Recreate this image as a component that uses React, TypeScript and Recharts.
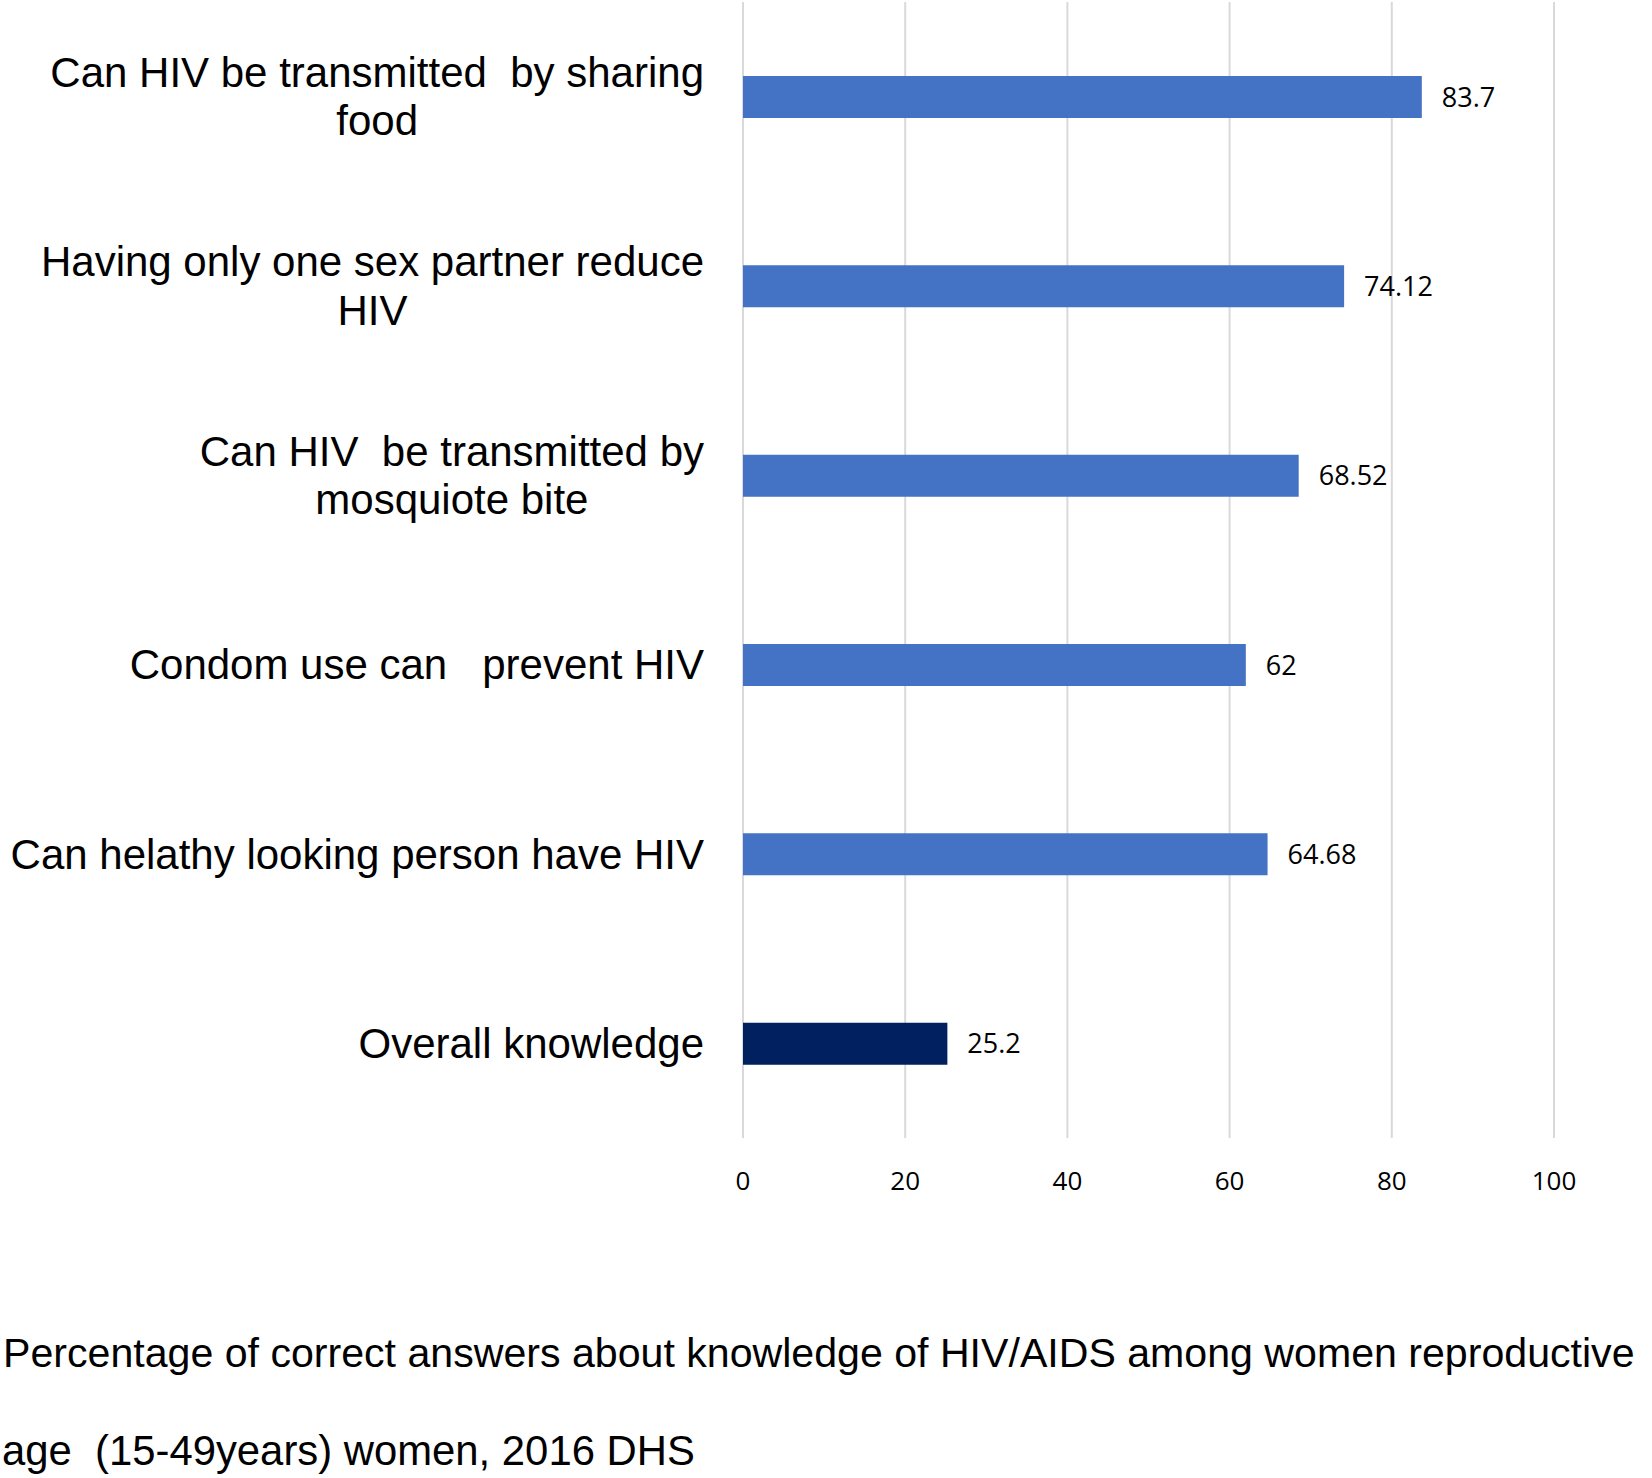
import React from "react";
import { BarChart, Bar, XAxis, YAxis, CartesianGrid, Cell, LabelList } from "recharts";

const categoryLines: string[][] = [
  ["Can HIV be transmitted  by sharing", "food"],
  ["Having only one sex partner reduce", "HIV"],
  ["Can HIV  be transmitted by", "mosquiote bite"],
  ["Condom use can   prevent HIV"],
  ["Can helathy looking person have HIV"],
  ["Overall knowledge"],
];
const categories = categoryLines.map((l) => l.join(" "));
const values = [83.7, 74.12, 68.52, 62, 64.68, 25.2];
const barColors = ["#4472C4", "#4472C4", "#4472C4", "#4472C4", "#4472C4", "#002060"];
const xTicks = [0, 20, 40, 60, 80, 100];
const captionLines = [
  "Percentage of correct answers about knowledge of HIV/AIDS among women reproductive",
  "age  (15-49years) women, 2016 DHS",
];

const data = categories.map((name, i) => ({ name, value: values[i], idx: i }));

const FAMILY = "'Liberation Sans', Arial, sans-serif";
let ctx: CanvasRenderingContext2D | null = null;
function measure(t: string, size: number): number {
  if (!ctx && typeof document !== "undefined") {
    ctx = document.createElement("canvas").getContext("2d");
  }
  if (!ctx) return t.length * size * 0.5;
  ctx.font = `${size}px ${FAMILY}`;
  return ctx.measureText(t).width;
}

function fitSize(t: string, target: number, base: number): number {
  const w = measure(t, base);
  if (!w) return base;
  return Math.min(base, (base * target) / w);
}

const YTick = (props: any) => {
  const { x, y, payload } = props;
  const idx = categories.indexOf(payload.value);
  const lines = idx >= 0 ? categoryLines[idx] : [String(payload.value)];
  const maxW = Math.max(...lines.map((l) => measure(l, 42)));
  const cx = x - maxW / 2;
  const lh = 48.5;
  const startY = y - ((lines.length - 1) * lh) / 2;
  return (
    <text textAnchor="middle" fontFamily={FAMILY} fontSize={42} fill="#000" style={{ whiteSpace: "pre" }}>
      {lines.map((l, i) => (
        <tspan key={i} x={cx} y={startY + i * lh} dominantBaseline="central">
          {l}
        </tspan>
      ))}
    </text>
  );
};

export default function App() {
  const cap1Size = fitSize(captionLines[0], 1632, 42);
  const cap2Size = fitSize(captionLines[1], 693, 42);
  return (
    <div style={{ position: "absolute", left: 0, top: 0, width: 1652, height: 1478, background: "#fff" }}>
      <BarChart
        width={1652}
        height={1478}
        data={data}
        layout="vertical"
        margin={{ top: 2, right: 98, bottom: 280, left: 0 }}
      >
        <CartesianGrid horizontal={false} vertical={true} stroke="#D9D9D9" strokeWidth={2} />
        <XAxis
          type="number"
          domain={[0, 100]}
          ticks={xTicks}
          axisLine={false}
          tickLine={false}
          tickMargin={28}
          height={60}
          tick={{ fontFamily: "'Open Sans', sans-serif", fontSize: 26, fill: "#000" }}
        />
        <YAxis
          type="category"
          dataKey="name"
          width={743}
          axisLine={false}
          tickLine={false}
          tickSize={0}
          tickMargin={39}
          tick={<YTick />}
          interval={0}
        />
        <Bar dataKey="value" barSize={42} isAnimationActive={false}>
          {data.map((d, i) => (
            <Cell key={i} fill={barColors[i]} />
          ))}
          <LabelList
            dataKey="value"
            position="right"
            offset={20}
            style={{ fontFamily: "'Open Sans', sans-serif", fontSize: 27, fill: "#000" }}
          />
        </Bar>
      </BarChart>
      <svg width={1652} height={1478} style={{ position: "absolute", left: 0, top: 0, pointerEvents: "none" }}>
        <text x={3} y={1367} fontFamily={FAMILY} fontSize={cap1Size} fill="#000" style={{ whiteSpace: "pre" }}>
          {captionLines[0]}
        </text>
        <text x={2} y={1465} fontFamily={FAMILY} fontSize={cap2Size} fill="#000" style={{ whiteSpace: "pre" }}>
          {captionLines[1]}
        </text>
      </svg>
    </div>
  );
}
